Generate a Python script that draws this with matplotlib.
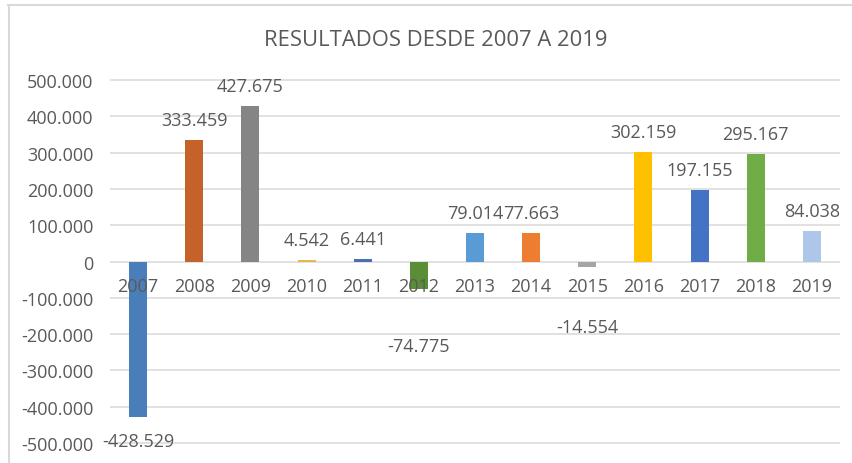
import numpy as np
import matplotlib
matplotlib.use('Agg')
import matplotlib.pyplot as plt
from matplotlib.lines import Line2D

# datos
years = ['2007', '2008', '2009', '2010', '2011', '2012', '2013',
         '2014', '2015', '2016', '2017', '2018', '2019']
results = [-428529, 333459, 427675, 4542, 6441, -74775, 79014,
           77663, -14554, 302159, 197155, 295167, 84038]
bar_colors = ['#4A7EBB', '#C5622A', '#858585', '#E3B94A', '#4B6FB5', '#5A8E36',
              '#5B9BD5', '#ED7D31', '#A5A5A5', '#FFC000', '#4472C4', '#70AD47',
              '#AEC6E8']
yticks = [-500000, -400000, -300000, -200000, -100000, 0,
          100000, 200000, 300000, 400000, 500000]

# label offsets (points) below negative bars, Excel pushes small ones down
neg_offsets = {0: -17, 5: -41, 8: -43}

def fmt(v):
    # formato con punto de miles
    s = '{:,}'.format(abs(int(v))).replace(',', '.')
    return ('-' if v < 0 else '') + s

plt.rcParams['font.family'] = ['Open Sans', 'DejaVu Sans']
txt_col = '#595959'
fs = 13

W, H = 852, 464
fig = plt.figure(figsize=(W / 100, H / 100), dpi=100)
top_px, bot_px = 77.4, 447.6
ax = fig.add_axes([110 / W, 1 - bot_px / H, 730 / W, (bot_px - top_px) / H])

x = np.arange(len(years))
ax.bar(x, results, width=0.32, color=bar_colors, zorder=3)

ax.set_xlim(-0.5, len(years) - 0.5)
ax.set_ylim(-510000, 510000)
ax.set_yticks(yticks)
ax.set_yticklabels([fmt(t) for t in yticks], color=txt_col, fontsize=fs)
ax.tick_params(axis='y', length=0, pad=12)
ax.set_xticks([])
ax.grid(axis='y', color='#D9D9D9', linewidth=1.1, zorder=0)
for s in ax.spines.values():
    s.set_visible(False)

# etiquetas de categoria bajo el eje cero
for i, yr in enumerate(years):
    ax.annotate(yr, (i, 0), xytext=(0, -18), textcoords='offset points',
                ha='center', va='center', color=txt_col, fontsize=fs)

# etiquetas de datos
for i, v in enumerate(results):
    if v >= 0:
        ax.annotate(fmt(v), (i, v), xytext=(0, 14.5), textcoords='offset points',
                    ha='center', va='center', color=txt_col, fontsize=fs)
    else:
        ax.annotate(fmt(v), (i, v), xytext=(0, neg_offsets.get(i, -16)),
                    textcoords='offset points', ha='center', va='center',
                    color=txt_col, fontsize=fs)

fig.text(436 / W, 1 - 40 / H, 'RESULTADOS DESDE 2007 A 2019', ha='center',
         va='center', color=txt_col, fontsize=15.8)

# marco del grafico
fig.add_artist(Line2D([8 / W, 1], [1 - 6 / H, 1 - 6 / H], color='#D9D9D9', lw=1.5))
fig.add_artist(Line2D([9 / W, 9 / W], [0, 1 - 6 / H], color='#D9D9D9', lw=1.5))

fig.savefig('out.png', dpi=100)
